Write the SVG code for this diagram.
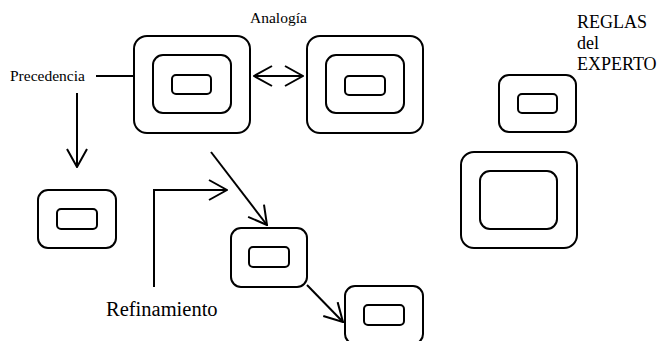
<svg xmlns="http://www.w3.org/2000/svg" width="660" height="341" viewBox="0 0 660 341">
<style>
.b{fill:none;stroke:#000;stroke-width:2}
.c{fill:none;stroke:#000;stroke-width:2}
.t{font-family:"Liberation Serif","Times New Roman",serif;fill:#000}
</style>
<defs>
<marker id="ah" viewBox="0 0 20 22" refX="19" refY="11" markerWidth="20" markerHeight="22" markerUnits="userSpaceOnUse" orient="auto-start-reverse">
<path d="M1,1 L19,11 L1,21" fill="none" stroke="#000" stroke-width="2"/>
</marker>
</defs>
<rect width="660" height="341" fill="#fff"/>
<g id="nodeA">
<rect class="b" x="134" y="36" width="116" height="97" rx="13"/>
<rect class="b" x="153" y="55" width="78" height="58" rx="10"/>
<rect class="b" x="172" y="75" width="39" height="19" rx="4"/>
</g>
<g id="nodeB">
<rect class="b" x="307" y="36" width="116" height="97" rx="13"/>
<rect class="b" x="326" y="55" width="78" height="58" rx="10"/>
<rect class="b" x="345" y="76" width="40" height="19" rx="4"/>
</g>
<g id="nodeC">
<rect class="b" x="499" y="75" width="77" height="57" rx="10"/>
<rect class="b" x="518" y="94" width="39" height="19" rx="4"/>
</g>
<g id="nodeD">
<rect class="b" x="461" y="152" width="116" height="96" rx="13"/>
<rect class="b" x="480" y="171" width="77" height="58" rx="10"/>
</g>
<g id="nodeE">
<rect class="b" x="38" y="190" width="78" height="58" rx="10"/>
<rect class="b" x="57" y="209" width="40" height="20" rx="4"/>
</g>
<g id="nodeF">
<rect class="b" x="231" y="228" width="76" height="59" rx="10"/>
<rect class="b" x="249" y="247" width="40" height="20" rx="4"/>
</g>
<g id="nodeG">
<rect class="b" x="345" y="286" width="78" height="58" rx="10"/>
<rect class="b" x="364" y="305" width="40" height="20" rx="4"/>
</g>
<g id="connectors">
<line class="c" x1="96" y1="76" x2="134" y2="76"/>
<line class="c" x1="77" y1="93" x2="77" y2="167" marker-end="url(#ah)"/>
<line class="c" x1="254" y1="76" x2="303" y2="76" marker-start="url(#ah)" marker-end="url(#ah)"/>
<line class="c" x1="211" y1="152" x2="267" y2="225" marker-end="url(#ah)"/>
<polyline class="c" points="154,287 154,190 227,190" marker-end="url(#ah)"/>
<line class="c" x1="307" y1="285" x2="343" y2="322" marker-end="url(#ah)"/>
</g>
<g id="labels">
<text class="t" x="250" y="23" font-size="15.5">Analogía</text>
<text class="t" x="10" y="81" font-size="15.5">Precedencia</text>
<text class="t" x="577" y="28" font-size="18">REGLAS</text>
<text class="t" x="577" y="49" font-size="18">del</text>
<text class="t" x="577" y="70" font-size="18">EXPERTO</text>
<text class="t" x="106" y="316" font-size="20.5">Refinamiento</text>
</g>
</svg>
